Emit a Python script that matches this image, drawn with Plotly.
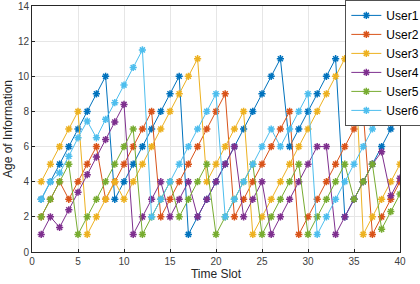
import plotly.graph_objects as go

time_slots = list(range(1, 41))
user_names = ["User1", "User2", "User3", "User4", "User5", "User6"]
user1 = [3,4,5,6,7,8,9,10,3,4,5,6,7,8,9,10,1,2,3,4,5,6,7,8,9,10,11,6,7,8,9,10,11,2,3,4,5,6,7,8]
user2 = [2,3,4,3,4,5,6,3,4,5,6,7,8,2,3,4,5,6,7,8,9,2,3,4,5,6,7,8,1,2,3,4,5,6,7,8,1,2,3,4]
user3 = [4,5,6,7,8,1,2,3,4,3,4,5,6,7,8,9,10,11,4,5,6,7,8,1,2,3,4,5,6,7,8,9,10,11,12,1,2,3,4,5]
user4 = [1,2,1.4,2.4,3.4,4.4,5.4,6.4,7.4,8.4,1,2,3,4,2,3,4,2,3,4,5,6,2,3,4,1,2,3,4,5,6,6,1,2,3,4,5,5.7,3.2,4.2]
user5 = [2,3,4,5,1,2,3,4,5,6,7,1,2,3,4,2,3,4,5,1,2,3,4,5,1,2,3,4,5,1,2,3,4,5,3,4,5,1.3,2.3,3.3]
user6 = [3,4,4.5,5.45,6.5,7.45,6.5,7.55,8.5,9.5,10.5,11.5,2,3,4,5,6,7,8,9,2,3,4,5,6,7,6,7,8,9,1,2,3,4,5,6,7,8,9,10]
colors = ["#0072BD", "#D95319", "#EDB120", "#7E2F8E", "#77AC30", "#4DBEEE"]

series = [user1, user2, user3, user4, user5, user6]

fig = go.Figure()
for name, ys, c in zip(user_names, series, colors):
    fig.add_trace(go.Scatter(
        x=time_slots, y=ys, name=name, mode="lines+markers",
        line=dict(color=c, width=1),
        marker=dict(symbol="asterisk-open", size=6, color=c, line=dict(color=c, width=1.5)),
    ))

axis_common = dict(
    showline=True, linecolor="#262626", linewidth=0.8, mirror=True,
    ticks="inside", ticklen=3, tickcolor="#262626",
    showgrid=True, gridcolor="#e6e6e6", gridwidth=1, zeroline=False,
    ticklabeloverflow="allow",
    tickfont=dict(family="Liberation Sans, Arial", size=10, color="#404040"),
    title_font=dict(family="Liberation Sans, Arial", size=12, color="#262626"),
)

fig.update_layout(
    width=420, height=284,
    margin=dict(l=32, r=20, t=6, b=32, autoexpand=False),
    paper_bgcolor="white", plot_bgcolor="white",
    font=dict(family="Liberation Sans, Arial", color="#262626"),
    xaxis=dict(range=[0, 40], tickmode="array", tickvals=[0,5,10,15,20,25,30,35,40],
               title=dict(text="Time Slot", standoff=1), **axis_common),
    yaxis=dict(range=[0, 14], tickmode="array", tickvals=[0,2,4,6,8,10,12,14],
               title=dict(text="Age of Information", standoff=2), **axis_common),
    legend=dict(x=0.852, y=1.024, xanchor="left", yanchor="top",
                bgcolor="white", bordercolor="#262626", borderwidth=0.8,
                font=dict(family="Liberation Sans, Arial", size=12, color="#000000"),
                itemwidth=30, tracegroupgap=0),
    showlegend=True,
)

fig.write_html("out.html", config={"displayModeBar": False},
               post_script="document.body.style.margin='0';")
